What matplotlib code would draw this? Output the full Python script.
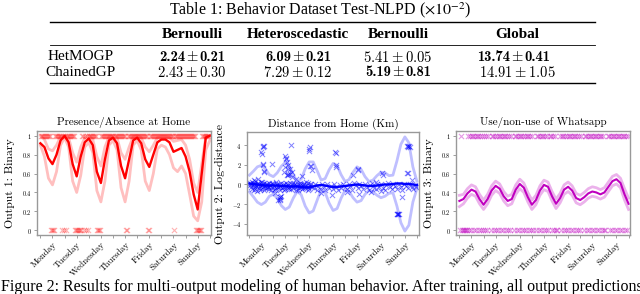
import numpy as np
import matplotlib
matplotlib.use("Agg")
import matplotlib.pyplot as plt
from matplotlib.lines import Line2D

# ---- table data ----
tab_title = r"Table 1: Behavior Dataset Test-NLPD ($\times10^{-2}$)"
tab_cols = ["Bernoulli", "Heteroscedastic", "Bernoulli", "Global"]
tab_rows = ["HetMOGP", "ChainedGP"]
tab_vals = [["2.24", "0.21", "6.09", "0.21", "5.41", "0.05", "13.74", "0.41"],
            ["2.43", "0.30", "7.29", "0.12", "5.19", "0.81", "14.91", "1.05"]]
tab_bold = [[True, True, False, True],
            [False, False, True, False]]

caption = ("Figure 2: Results for multi-output modeling of human behavior. "
           "After training, all output predictions")

days = ["Monday", "Tuesday", "Wednesday", "Thursday", "Friday", "Saturday", "Sunday"]

# curve samples every 4 hours (0 .. 168 h)
hours = list(range(0, 169, 4))

# ---- output 1: presence at home ----
p1_mean = [0.92, 0.88, 0.76, 0.70, 0.80, 0.95, 1.00, 0.93, 0.70, 0.57, 0.78, 0.93,
           0.97, 0.90, 0.62, 0.50, 0.75, 0.95, 0.98, 0.92, 0.68, 0.55, 0.75, 0.95,
           0.98, 0.92, 0.75, 0.67, 0.80, 0.93, 0.96, 0.96, 0.93, 0.83, 0.85, 0.87,
           0.78, 0.62, 0.38, 0.22, 0.60, 0.98, 1.00]
p1_lo = [0.90, 0.78, 0.55, 0.48, 0.62, 0.90, 0.98, 0.88, 0.52, 0.40, 0.58, 0.88,
         0.93, 0.82, 0.42, 0.30, 0.52, 0.90, 0.95, 0.85, 0.45, 0.30, 0.52, 0.90,
         0.95, 0.85, 0.52, 0.42, 0.60, 0.86, 0.90, 0.88, 0.80, 0.66, 0.62, 0.68,
         0.60, 0.38, 0.15, 0.10, 0.30, 0.85, 0.95]
p1_hi = [1.00, 0.96, 0.86, 0.84, 0.90, 0.99, 1.00, 0.98, 0.82, 0.72, 0.88, 0.98,
         1.00, 0.96, 0.78, 0.68, 0.88, 0.99, 1.00, 0.98, 0.82, 0.75, 0.88, 0.99,
         1.00, 0.98, 0.88, 0.83, 0.90, 0.98, 0.99, 0.99, 0.98, 0.94, 0.95, 0.96,
         0.90, 0.75, 0.50, 0.40, 0.70, 0.99, 1.00]
# hourly observation, one string per day
p1_obs = ["111111111100001111111010",
          "101111111100000001101010",
          "111111110000111111111111",
          "111111111111001111111111",
          "111111111100111111111111",
          "111111111111011111111111",
          "111111111100000011111111"]

# ---- output 2: log-distance ----
p2_mean = [0.10, 0.05, 0.00, -0.05, -0.10, -0.10, -0.10, -0.10, -0.15, -0.15, -0.20,
           -0.20, -0.20, -0.25, -0.30, -0.30, -0.20, -0.10, -0.05, -0.10, -0.20, -0.25,
           -0.25, -0.20, -0.15, -0.10, -0.05, 0.00, -0.05, -0.10, -0.15, -0.15, -0.10,
           -0.05, 0.00, 0.00, 0.05, 0.10, 0.10, 0.05, 0.05, 0.00, -0.05]
p2_half = [0.85, 1.30, 1.80, 2.00, 1.70, 1.10, 0.90, 1.30, 2.00, 2.40, 2.10, 1.20,
           0.50, 0.80, 1.90, 2.60, 2.50, 1.50, 0.50, 0.70, 1.70, 2.40, 2.20, 1.20,
           0.45, 0.60, 1.30, 1.80, 1.60, 0.90, 0.45, 0.60, 1.00, 1.30, 1.20, 0.90,
           0.90, 2.30, 4.00, 4.80, 4.20, 1.80, 0.40]
p2_cloud = [(0.02, 0.2), (0.05, -0.3), (0.08, 0.1), (0.1, -0.5), (0.12, 0.3), (0.15, -0.1),
            (0.18, -0.6), (0.2, 0.0), (0.22, 0.4), (0.25, -0.3), (0.28, -0.2), (0.3, 0.1),
            (0.33, -0.7), (0.36, 0.2), (0.4, -0.4), (0.42, 0.0), (0.45, -0.2), (0.48, 0.3),
            (0.5, -0.5), (0.52, -0.1), (0.55, 0.1), (0.58, -0.3), (0.6, -0.6), (0.63, 0.2),
            (0.66, -0.2), (0.7, 0.0), (0.72, -0.4), (0.75, 0.1), (0.78, -0.3), (0.8, -0.5),
            (0.83, 0.2), (0.86, -0.1), (0.9, -0.6), (0.93, 0.0), (0.96, -0.3), (1.0, 0.1),
            (1.03, -0.2), (1.06, -0.5), (1.1, 0.3), (1.13, -0.4), (1.16, -0.1), (1.2, -0.3),
            (1.23, 0.0), (1.26, -0.6), (1.3, -0.2), (1.33, 0.2), (1.36, -0.4), (1.4, -0.1),
            (1.43, -0.3), (1.46, 0.1), (1.5, -0.5), (1.53, -0.2), (1.56, 0.0), (1.6, -0.4),
            (1.63, -0.1), (1.66, -0.3), (1.7, 0.2), (1.73, -0.5), (1.76, -0.2), (1.8, 0.0),
            (1.83, -0.4), (1.86, -0.1), (1.9, 0.1), (1.93, -0.3), (1.96, -0.6), (2.0, -0.2),
            (2.03, 0.0), (2.06, -0.4), (2.1, 0.2), (2.13, -0.1), (2.16, -0.3), (2.2, -0.5),
            (2.23, 0.1), (2.26, -0.2), (2.3, 0.0), (2.33, -0.4), (2.36, 0.3), (2.4, -0.1),
            (2.43, -0.3), (2.46, 0.2), (2.5, -0.5), (2.53, -0.2), (2.56, 0.0), (2.6, -0.3),
            (0.04, -0.1), (0.14, 0.2), (0.24, -0.5), (0.34, -0.1), (0.44, -0.6), (0.54, 0.3),
            (0.64, -0.4), (0.74, -0.1), (0.84, -0.3), (0.94, 0.2), (1.04, -0.6), (1.14, 0.0),
            (1.24, -0.3), (1.44, -0.6), (1.54, 0.2), (1.64, -0.5), (1.84, 0.2), (1.94, -0.1),
            (2.04, -0.6), (2.14, 0.1), (2.24, -0.4), (2.34, -0.2), (2.44, -0.6), (2.54, 0.1)]
p2_sparse = [(2.7, -0.4), (2.76, 0.1), (2.82, -0.6), (2.88, -0.2), (2.95, -0.5), (3.02, 0.0),
             (3.1, -0.3), (3.18, -0.6), (3.25, 0.1), (3.32, -0.4), (3.4, -0.2), (3.48, -0.5),
             (3.55, 0.0), (3.62, -0.3), (3.7, -0.6), (3.78, -0.1), (3.85, -0.4), (3.92, 0.1),
             (4.0, -0.3), (4.08, -0.5), (4.15, 0.0), (4.22, -0.2), (4.3, -0.6), (4.38, 0.2),
             (4.45, -0.1), (4.52, -0.4), (4.6, 0.1), (4.68, -0.2), (4.75, -0.5), (4.82, 0.0),
             (4.9, -0.3), (4.98, -0.6), (5.05, -0.1), (5.12, 0.2), (5.2, -0.4), (5.28, -0.5),
             (5.35, 0.0), (5.42, -0.3), (5.5, 0.1), (5.58, -0.4), (5.65, -0.6), (5.72, -0.1),
             (5.8, 0.2), (5.88, -0.3), (5.95, -0.5), (6.02, 0.0), (6.1, -0.2), (6.18, -0.5),
             (6.25, 0.1), (6.32, -0.3), (6.4, -0.6), (6.48, 0.0), (6.55, -0.2), (6.62, -0.4),
             (6.7, 0.1), (6.78, -0.3), (6.85, -0.5), (6.92, -0.1), (6.98, -0.3)]
p2_outliers = [(0.55, 3.9), (0.57, 3.85), (0.6, 3.95), (0.5, 3.3), (0.52, 3.1), (0.55, 2.1),
               (0.58, 2.0), (0.6, 1.35), (0.62, 1.25), (0.95, 2.1), (0.2, 0.5), (0.35, 0.6),
               (1.5, 2.9), (1.52, 2.7), (1.54, 2.6), (1.56, 2.3), (1.5, 1.8), (1.6, 2.0),
               (1.62, 1.6), (1.7, 1.6), (1.78, 1.3), (1.57, 1.0), (1.6, 1.05), (1.63, 0.95),
               (1.72, 4.0), (1.45, 1.3), (1.68, 1.1), (1.8, 0.8), (1.95, 0.6),
               (1.27, -1.25), (1.29, -1.3), (1.31, -1.2), (1.3, -1.55), (1.28, -1.45),
               (1.2, -1.6), (1.08, -0.9),
               (2.48, 3.6), (2.5, 3.45), (2.52, 3.8), (2.55, 1.9), (2.57, 1.85), (2.6, 1.45),
               (2.2, 0.9), (3.57, 3.3), (3.6, 3.25), (3.6, 1.95), (3.62, 1.8), (3.45, -1.1),
               (3.0, -0.9), (4.53, 1.55), (4.55, 1.5), (4.35, 0.95), (4.6, -1.0), (4.1, -0.8),
               (5.56, 1.2), (5.58, 1.0), (5.3, 0.3), (5.1, -0.8), (5.5, -0.7),
               (6.15, -3.0), (6.18, -3.05), (6.2, -3.0), (6.23, -2.98), (6.25, -3.0),
               (6.37, -1.25), (6.6, 3.9), (6.62, 3.85), (6.65, 3.9), (6.68, 3.88),
               (6.7, 3.82), (6.58, 1.2), (6.63, 1.2), (6.8, 0.5)]

# ---- output 3: whatsapp use ----
p3_mean = [0.31, 0.33, 0.39, 0.43, 0.41, 0.33, 0.27, 0.33, 0.42, 0.47, 0.44, 0.36,
           0.31, 0.33, 0.43, 0.49, 0.45, 0.35, 0.27, 0.32, 0.42, 0.48, 0.46, 0.36,
           0.28, 0.34, 0.43, 0.46, 0.42, 0.34, 0.32, 0.35, 0.39, 0.41, 0.40, 0.38,
           0.40, 0.46, 0.52, 0.54, 0.50, 0.38, 0.28]
p3_half = [0.06, 0.05, 0.05, 0.05, 0.05, 0.05, 0.05, 0.05, 0.05, 0.05, 0.05, 0.05,
           0.05, 0.05, 0.05, 0.05, 0.05, 0.05, 0.05, 0.05, 0.05, 0.05, 0.05, 0.05,
           0.05, 0.05, 0.05, 0.05, 0.05, 0.05, 0.05, 0.05, 0.05, 0.05, 0.05, 0.05,
           0.05, 0.05, 0.05, 0.05, 0.05, 0.06, 0.06]
# '-' = no observation
p3_obs = ["010000001010110101101010",
          "10101--01101010110101101",
          "0101--011010110101011010",
          "10--01101011010101101010",
          "0--101101010110101101010",
          "1--011010110101101011010",
          "0--110101101011010110101"]


def fx(px):
    return px / 640.0


def fy(py):
    return 1.0 - py / 294.0


plt.rcParams["font.family"] = ["Liberation Serif", "DejaVu Serif"]
plt.rcParams["mathtext.fontset"] = "cm"

fig = plt.figure(figsize=(6.4, 2.94), dpi=100)

# ---- table ----
fig.text(fx(320), fy(10), tab_title, ha="center", va="center", fontsize=11.5,
         math_fontfamily="stix")
for yy, lw in [(22, 1.0), (45, 0.6), (83, 1.0)]:
    fig.add_artist(Line2D([fx(50), fx(595)], [fy(yy), fy(yy)], color="k", lw=lw))
col_x = [192, 298, 398, 517]
for cx, name in zip(col_x, tab_cols):
    fig.text(fx(cx), fy(34), name, ha="center", va="center", fontsize=11,
             fontweight="bold")
for r, (rname, ry) in enumerate(zip(tab_rows, [57, 72])):
    fig.text(fx(81), fy(ry), rname, ha="center", va="center", fontsize=11)
    for c, cx in enumerate(col_x):
        v, e = tab_vals[r][2 * c], tab_vals[r][2 * c + 1]
        if tab_bold[r][c]:
            # bold CM digits, the plus-minus sign from math mode
            fig.text(fx(cx - 7), fy(ry), v, ha="right", va="center", fontsize=10.5,
                     family="cmb10")
            fig.text(fx(cx), fy(ry), r"$\pm$", ha="center", va="center",
                     fontsize=10.5, math_fontfamily="cm")
            fig.text(fx(cx + 7), fy(ry), e, ha="left", va="center", fontsize=10.5,
                     family="cmb10")
        else:
            fig.text(fx(cx), fy(ry), r"$%s\pm%s$" % (v, e), ha="center",
                     va="center", fontsize=10.5, math_fontfamily="cm")

fig.text(fx(1), fy(291), caption, ha="left", va="baseline", fontsize=11.5)

# ---- plots ----
x_curve = np.array(hours) / 24.0
boxes = [(37, 211, 131, 235), (247, 419, 132, 235), (456, 630, 131, 235)]
axes = []
for l, r, t, b in boxes:
    axes.append(fig.add_axes([fx(l), fy(b), (r - l) / 640.0, (b - t) / 294.0]))


def style(ax, title, ylabel, yt, ytl, xlim, ylim):
    ax.set_xlim(*xlim)
    ax.set_ylim(*ylim)
    ax.set_title(title, fontfamily="cmr10", fontsize=8, pad=4)
    ax.set_ylabel(ylabel, fontfamily="cmr10", fontsize=8.5)
    ax.yaxis.set_label_coords(-0.127, 0.5)
    ax.set_yticks(yt, labels=ytl)
    ax.set_xticks(np.arange(7) + 0.5)
    ax.set_xticklabels(days, rotation=45, ha="right", rotation_mode="anchor",
                       fontfamily="cmr10", fontsize=6.5)
    ax.set_xticks(np.arange(8), minor=True)
    ax.tick_params(axis="y", labelsize=4.5, length=2, width=0.5, color="#777777", pad=2)
    ax.tick_params(axis="x", which="both", length=2, width=0.5, color="#777777", pad=2)
    for sp in ax.spines.values():
        sp.set_color("#999999")
        sp.set_linewidth(1.0)


def binary_points(obs):
    xs1, xs0 = [], []
    for d, s in enumerate(obs):
        for h, c in enumerate(s):
            x = d + (h + 0.5) / 24.0
            if c == "1":
                xs1.append(x)
            elif c == "0":
                xs0.append(x)
    return xs1, xs0


bin_ticks = [0, 0.2, 0.4, 0.6, 0.8, 1]
bin_labels = ["$0$", "$0.2$", "$0.4$", "$0.6$", "$0.8$", "$1$"]

# output 1
ax = axes[0]
ones, zeros = binary_points(p1_obs)
ax.scatter(ones, [1] * len(ones), marker="x", s=14, lw=0.8, color="red", alpha=0.3)
ax.scatter(zeros, [0] * len(zeros), marker="x", s=14, lw=0.8, color="red", alpha=0.3)
ax.plot(x_curve, p1_lo, color="red", alpha=0.25, lw=2)
ax.plot(x_curve, p1_hi, color="red", alpha=0.25, lw=2)
ax.plot(x_curve, p1_mean, color="red", lw=1.7)
style(ax, "Presence/Absence at Home", "Output 1: Binary", bin_ticks, bin_labels,
      (-0.14, 7.05), (-0.05, 1.05))

# output 2
ax = axes[1]
pts = p2_cloud + p2_sparse + p2_outliers
ax.scatter([p[0] for p in pts], [p[1] for p in pts], marker="x", s=14, lw=0.7,
           color="blue", alpha=0.5)
m2 = np.array(p2_mean)
h2 = np.array(p2_half)
ax.plot(x_curve, m2 + h2, color="blue", alpha=0.25, lw=2)
ax.plot(x_curve, m2 - h2, color="blue", alpha=0.25, lw=2)
ax.plot(x_curve, m2, color="blue", lw=1.7)
style(ax, "Distance from Home (Km)", "Output 2: Log-distance", [-4, -2, 0, 2, 4],
      ["$-4$", "$-2$", "$0$", "$2$", "$4$"], (-0.1, 7.09), (-5.15, 5.35))

# output 3
ax = axes[2]
ones, zeros = binary_points(p3_obs)
ax.scatter(ones, [1] * len(ones), marker="x", s=14, lw=0.8, color="m", alpha=0.4)
ax.scatter(zeros, [0] * len(zeros), marker="x", s=14, lw=0.8, color="m", alpha=0.4)
m3 = np.array(p3_mean)
h3 = np.array(p3_half)
ax.plot(x_curve, m3 + h3, color="m", alpha=0.3, lw=2)
ax.plot(x_curve, m3 - h3, color="m", alpha=0.3, lw=2)
ax.plot(x_curve, m3, color="m", lw=1.5)
style(ax, "Use/non-use of Whatsapp", "Output 3: Binary", bin_ticks, bin_labels,
      (-0.14, 7.06), (-0.05, 1.05))

fig.savefig("out.png", dpi=100)
